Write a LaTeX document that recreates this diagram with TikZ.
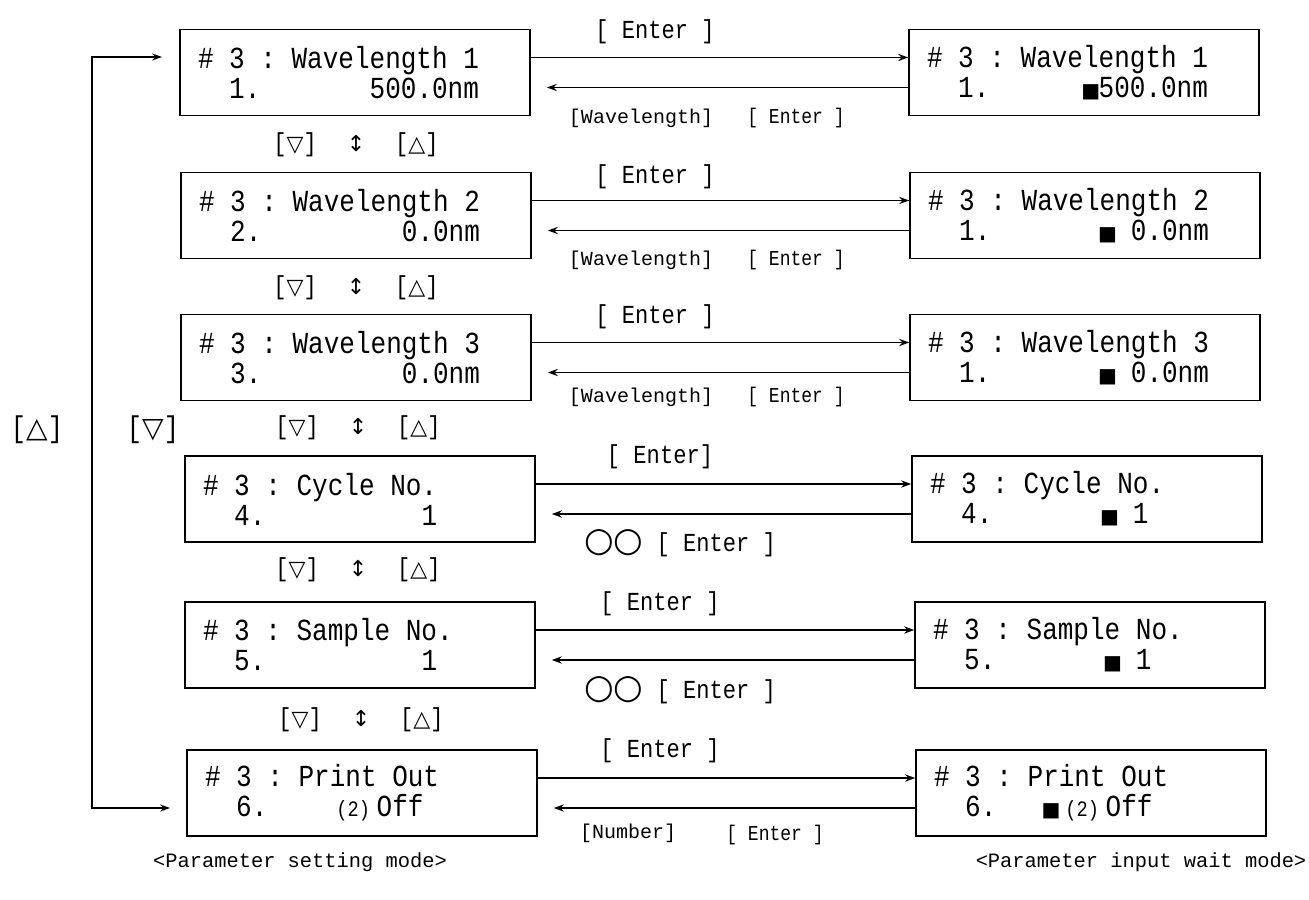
\documentclass[tikz,border=0pt]{standalone}
\usepackage{fontspec}
\usetikzlibrary{arrows.meta}
\setmonofont{Liberation Mono}
\newfontfamily\lcdfont[FakeStretch=0.85]{Liberation Mono}
\newfontfamily\symfont{DejaVu Sans}
% one column of the display
\newcommand{\colsp}{\hspace*{\fontcharwd\font`0}}
\newcommand{\kbd}[2]{{\fontsize{#1}{#1}\lcdfont #2}}
\newcommand{\sym}[2]{{\fontsize{#1}{#1}\symfont #2}}
\newcommand{\sq}{\makebox[7.8pt]{\sym{10}{■}}}
\newcommand{\prn}{\makebox[23.4pt]{\fontsize{11}{11}\selectfont(2)}}
\newcommand{\updown}{\kbd{13}{[}\sym{11}{▽}\kbd{13}{]}\hspace{15pt}\sym{11}{↕}\hspace{15pt}\kbd{13}{[}\sym{11}{△}\kbd{13}{]}}

\tikzset{
  lcdbox/.style={draw, line width=0.8pt, minimum height=43pt, text width=157pt,
    inner xsep=9pt, align=left, font=\fontsize{15.3}{15}\lcdfont\let~\colsp},
  keylbl/.style={inner sep=0pt, font=\fontsize{13}{13}\lcdfont},
  backlbl/.style={inner sep=0pt, font=\fontsize{10.6}{10.6}\lcdfont},
  smalllbl/.style={inner sep=0pt, font=\fontsize{10}{10}\ttfamily},
  modelbl/.style={inner sep=0pt, font=\fontsize{10.2}{10.2}\ttfamily},
  >={Stealth[length=5pt,width=3.6pt]},
}

\begin{document}
\begin{tikzpicture}[x=0.5pt, y=-0.5pt, line width=0.7pt]
\useasboundingbox (0,0) rectangle (1309,899);

% parameter setting mode
\node[lcdbox] (set1) at (355,72.5) {\#~3~:~Wavelength~1\\~~1.~~~~~~~500.0nm};
\node[lcdbox] (set2) at (356,215.5) {\#~3~:~Wavelength~2\\~~2.~~~~~~~~~0.0nm};
\node[lcdbox] (set3) at (356,357.5) {\#~3~:~Wavelength~3\\~~3.~~~~~~~~~0.0nm};
\node[lcdbox] (set4) at (360,499) {\#~3~:~Cycle~No.\\~~4.~~~~~~~~~~1};
\node[lcdbox] (set5) at (360,645) {\#~3~:~Sample~No.\\~~5.~~~~~~~~~~1};
\node[lcdbox] (set6) at (362,793) {\#~3~:~Print~Out\\~~6.~~~~\prn Off};

% parameter input wait mode
\node[lcdbox] (inp1) at (1084,72.5) {\#~3~:~Wavelength~1\\~~1.~~~~~~\sq500.0nm};
\node[lcdbox] (inp2) at (1085,215.5) {\#~3~:~Wavelength~2\\~~1.~~~~~~~\sq~0.0nm};
\node[lcdbox] (inp3) at (1085,357.5) {\#~3~:~Wavelength~3\\~~1.~~~~~~~\sq~0.0nm};
\node[lcdbox] (inp4) at (1087,499) {\#~3~:~Cycle~No.\\~~4.~~~~~~~\sq~1};
\node[lcdbox] (inp5) at (1090,645) {\#~3~:~Sample~No.\\~~5.~~~~~~~\sq~1};
\node[lcdbox] (inp6) at (1091,793) {\#~3~:~Print~Out\\~~6.~~~\sq\prn Off};

\foreach \i in {1,...,6}{
  \draw[->] ([yshift=7.5pt]set\i.east) -- ([yshift=7.5pt]inp\i.west);
  \draw[->] ([yshift=-7.5pt]inp\i.west) -- ([yshift=-7.5pt,xshift=8pt]set\i.east);
}

% keys on the arrows
\node[keylbl] (ent1) at (655,32) {[ Enter ]};
\node[keylbl] (ent2) at (655,177) {[ Enter ]};
\node[keylbl] (ent3) at (655,317) {[ Enter ]};
\node[keylbl] (ent4) at (660,457) {[ Enter]};
\node[keylbl] (ent5) at (660,604) {[ Enter ]};
\node[keylbl] (ent6) at (660,751) {[ Enter ]};

\node[smalllbl] (wl1) at (641,118) {[Wavelength]};
\node[backlbl] (back1) at (796,118) {[ Enter ]};
\node[smalllbl] (wl2) at (641,260) {[Wavelength]};
\node[backlbl] (back2) at (796,260) {[ Enter ]};
\node[smalllbl] (wl3) at (641,397) {[Wavelength]};
\node[backlbl] (back3) at (796,397) {[ Enter ]};
\node[keylbl] (back4) at (680,543) {\sym{17}{○○} [ Enter ]};
\node[keylbl] (back5) at (680,690) {\sym{17}{○○} [ Enter ]};
\node[smalllbl] (num6) at (628,833) {[Number]};
\node[backlbl] (back6) at (775,835) {[ Enter ]};

% scrolling keys
\node (ud1) at (356,145) {\updown};
\node (ud2) at (356,288) {\updown};
\node (ud3) at (358,428) {\updown};
\node (ud4) at (358,570) {\updown};
\node (ud5) at (361,720) {\updown};

% wrap around
\coordinate (wrapin) at (162,57);
\coordinate (wrapout) at (170,808);
\draw[<->] (wrapin) -| (92,430) |- (wrapout);
\node (upkey) at (37,430) {\kbd{15}{[}\sym{14}{△}\kbd{15}{]}};
\node (downkey) at (153,430) {\kbd{15}{[}\sym{14}{▽}\kbd{15}{]}};

\node[modelbl] (mset) at (300,862) {<Parameter setting mode>};
\node[modelbl] (minp) at (1141,862) {<Parameter input wait mode>};
\end{tikzpicture}
\end{document}
